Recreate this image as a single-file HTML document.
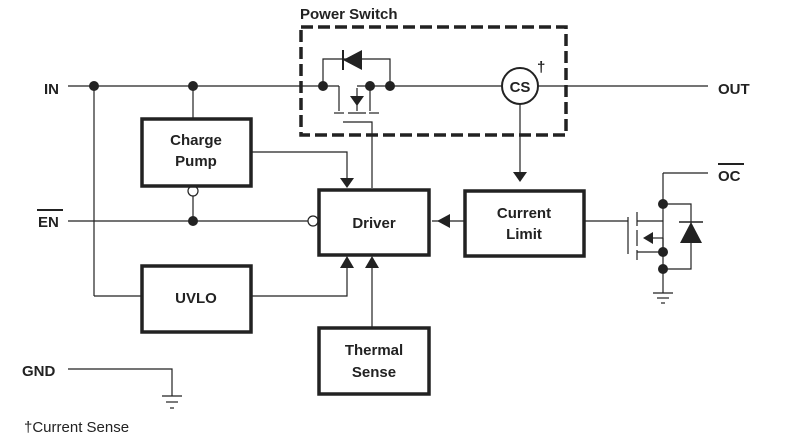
<!DOCTYPE html>
<html><head><meta charset="utf-8"><style>
html,body{margin:0;padding:0;background:#fff;}
svg{display:block;}
text{font-family:"Liberation Sans",sans-serif;fill:#222;}
.b{font-weight:bold;font-size:15px;}
</style></head><body>
<svg width="802" height="441" viewBox="0 0 802 441" xmlns="http://www.w3.org/2000/svg">
<g stroke="#222" stroke-width="1.2" fill="none">
<!-- IN line -->
<line x1="68" y1="86" x2="339" y2="86"/>
<line x1="357" y1="86" x2="502" y2="86"/>
<line x1="538" y1="86" x2="708" y2="86"/>
<line x1="94" y1="86" x2="94" y2="296"/>
<line x1="94" y1="296" x2="142" y2="296"/>
<line x1="193" y1="86" x2="193" y2="119"/>
<!-- EN -->
<line x1="68" y1="221" x2="308" y2="221"/>
<line x1="193" y1="196" x2="193" y2="221"/>
<!-- charge pump to driver -->
<polyline points="251,152 347,152 347,178"/>
<!-- uvlo to driver -->
<polyline points="251,296 347,296 347,268"/>
<!-- thermal -->
<line x1="372" y1="268" x2="372" y2="328"/>
<!-- gate to driver -->
<polyline points="343,122 372,122 372,188"/>
<!-- CS down -->
<line x1="520" y1="104" x2="520" y2="172"/>
<!-- current limit left -->
<line x1="432" y1="221" x2="465" y2="221"/>
<line x1="584" y1="221" x2="628" y2="221"/>
<!-- power switch internals -->
<polyline points="323,86 323,59 390,59 390,86"/>
<line x1="339" y1="86" x2="339" y2="111"/>
<line x1="370" y1="86" x2="370" y2="111"/>
<line x1="357" y1="88" x2="357" y2="111"/>
<line x1="334" y1="113" x2="344" y2="113"/>
<line x1="348" y1="113" x2="366" y2="113"/>
<line x1="369" y1="113" x2="379" y2="113"/>
<line x1="343" y1="50" x2="343" y2="70" stroke-width="2"/>
<!-- right mosfet -->
<polyline points="663,173 708,173"/>
<line x1="663" y1="173" x2="663" y2="293"/>
<line x1="628" y1="217" x2="628" y2="254"/>
<line x1="637" y1="212" x2="637" y2="226"/>
<line x1="637" y1="230" x2="637" y2="246"/>
<line x1="637" y1="250" x2="637" y2="260"/>
<line x1="637" y1="221" x2="663" y2="221"/>
<line x1="637" y1="252" x2="663" y2="252"/>
<line x1="652" y1="238" x2="663" y2="238"/>
<line x1="663" y1="238" x2="663" y2="252"/>
<polyline points="663,204 691,204 691,269 663,269"/>
<line x1="679" y1="222" x2="703" y2="222" stroke-width="1.5"/>
<line x1="653" y1="293" x2="673" y2="293"/>
<line x1="657" y1="298" x2="669" y2="298"/>
<line x1="661" y1="303" x2="665" y2="303"/>
<!-- GND -->
<polyline points="68,369 172,369 172,396"/>
<line x1="162" y1="396" x2="182" y2="396"/>
<line x1="166" y1="402" x2="178" y2="402"/>
<line x1="170" y1="408" x2="174" y2="408"/>
<!-- CS circle -->
<circle cx="520" cy="86" r="18" stroke-width="2" fill="#fff"/>
<!-- open circles -->
<circle cx="193" cy="191" r="5" fill="#fff"/>
<circle cx="313" cy="221" r="5" fill="#fff"/>
<!-- dashed box -->
<rect x="301" y="27" width="265" height="108" stroke-width="3.5" stroke-dasharray="12,5"/>
<!-- boxes -->
<rect x="142" y="119" width="109" height="67" stroke-width="3.5"/>
<rect x="142" y="266" width="109" height="66" stroke-width="3.5"/>
<rect x="319" y="190" width="110" height="65" stroke-width="3.5"/>
<rect x="319" y="328" width="110" height="66" stroke-width="3.5"/>
<rect x="465" y="191" width="119" height="65" stroke-width="3.5"/>
<line x1="37" y1="210" x2="63" y2="210" stroke-width="2"/>
<line x1="718" y1="164" x2="744" y2="164" stroke-width="2"/>
</g>
<g fill="#222">
<circle cx="94" cy="86" r="5"/><circle cx="193" cy="86" r="5"/>
<circle cx="193" cy="221" r="5"/>
<circle cx="323" cy="86" r="5"/><circle cx="370" cy="86" r="5"/><circle cx="390" cy="86" r="5"/>
<circle cx="663" cy="204" r="5"/><circle cx="663" cy="252" r="5"/><circle cx="663" cy="269" r="5"/>
<polygon points="343,60 362,50 362,70"/>
<polygon points="350,96 364,96 357,106"/>
<polygon points="340,178 354,178 347,188"/>
<polygon points="340,268 354,268 347,256"/>
<polygon points="365,268 379,268 372,256"/>
<polygon points="513,172 527,172 520,182"/>
<polygon points="437,221 450,214 450,228"/>
<polygon points="643,238 653,232 653,244"/>
<polygon points="691,222 680,243 702,243"/>
</g>
<text class="b" x="300" y="19">Power Switch</text>
<text class="b" x="44" y="94">IN</text>
<text class="b" x="38" y="227">EN</text>
<text class="b" x="718" y="94">OUT</text>
<text class="b" x="718" y="181">OC</text>
<text class="b" x="22" y="376">GND</text>
<text class="b" x="196" y="145" text-anchor="middle">Charge</text>
<text class="b" x="196" y="166" text-anchor="middle">Pump</text>
<text class="b" x="196" y="303" text-anchor="middle">UVLO</text>
<text class="b" x="374" y="228" text-anchor="middle">Driver</text>
<text class="b" x="374" y="355" text-anchor="middle">Thermal</text>
<text class="b" x="374" y="377" text-anchor="middle">Sense</text>
<text class="b" x="524" y="218" text-anchor="middle">Current</text>
<text class="b" x="524" y="239" text-anchor="middle">Limit</text>
<text class="b" x="520" y="92" text-anchor="middle">CS</text>
<text class="b" x="537" y="72">†</text>
<text x="24" y="432" style="font-size:15px">†Current Sense</text>
</svg>
</body></html>
